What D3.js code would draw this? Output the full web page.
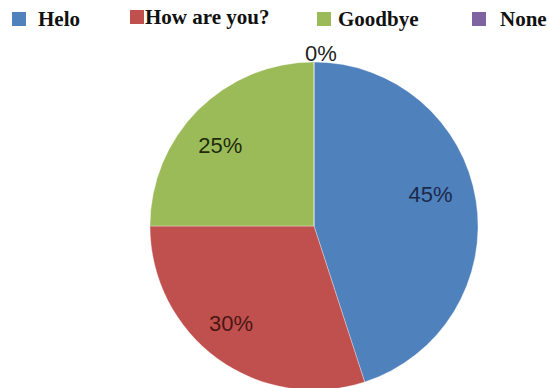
<!DOCTYPE html>
<html>
<head>
<meta charset="utf-8">
<script src="https://cdn.jsdelivr.net/npm/d3@7"></script>
<style>
  html, body { margin: 0; padding: 0; background: #fff; }
  svg { display: block; }
</style>
</head>
<body>
<svg id="chart" width="549" height="388"></svg>
<script>
// Share of greetings
const categories = ["Helo", "How are you?", "Goodbye", "None"];
const values = [45, 30, 25, 0];
const labels = ["45%", "30%", "25%", "0%"];

const colors = ["#4F81BD", "#C0504D", "#9BBB59", "#8064A2"];
const labelColors = ["#1b2a4a", "#4a1616", "#1e2c0c", "#222222"];

const W = 549, H = 388;
const cx = 314, cy = 226, R = 164;

const svg = d3.select("#chart");

const color = d3.scaleOrdinal().domain(categories).range(colors);
const labelColor = d3.scaleOrdinal().domain(categories).range(labelColors);

const data = categories.map((c, i) => ({ category: c, value: values[i], label: labels[i] }));

const pie = d3.pie().sort(null).value(d => d.value).startAngle(0).endAngle(2 * Math.PI);
const arcs = pie(data);

const arc = d3.arc().innerRadius(0).outerRadius(R);

const g = svg.append("g").attr("transform", `translate(${cx},${cy})`);

g.selectAll("path.slice")
  .data(arcs)
  .join("path")
  .attr("class", "slice")
  .attr("d", arc)
  .attr("fill", d => color(d.data.category))
  .attr("stroke", "rgba(255,255,255,0.45)")
  .attr("stroke-width", 0.7);

// Data labels: placed inside the slice, or just outside for an empty slice
const labelArc = d3.arc().innerRadius(124).outerRadius(124);
const outerArc = d3.arc().innerRadius(R + 10).outerRadius(R + 10);
const nudge = {
  "Helo": [-6, -12],
  "How are you?": [-10, -3],
  "Goodbye": [-6, 7],
  "None": [7, 1]
};

g.selectAll("text.val")
  .data(arcs)
  .join("text")
  .attr("class", "val")
  .attr("transform", d => {
    const p = d.value > 0 ? labelArc.centroid(d) : outerArc.centroid(d);
    const n = nudge[d.data.category];
    return `translate(${p[0] + n[0]},${p[1] + n[1]})`;
  })
  .attr("text-anchor", "middle")
  .attr("dominant-baseline", "central")
  .attr("font-family", "'Liberation Sans', Arial, sans-serif")
  .attr("font-size", 22)
  .attr("fill", d => labelColor(d.data.category))
  .text(d => d.data.label);

// Legend across the top
const legendX = [12, 130, 317, 472];
const legendY = [12, 10, 12, 12];
const legendTextX = [26, 15, 21, 28];
const legend = svg.append("g")
  .selectAll("g")
  .data(data)
  .join("g")
  .attr("transform", (d, i) => `translate(${legendX[i]},${legendY[i]})`);

legend.append("rect")
  .attr("width", 14)
  .attr("height", 14)
  .attr("fill", d => color(d.category));

legend.append("text")
  .attr("x", (d, i) => legendTextX[i])
  .attr("y", 14)
  .attr("font-family", "'Liberation Serif', 'Times New Roman', serif")
  .attr("font-weight", "bold")
  .attr("font-size", 21)
  .attr("fill", "#111")
  .text(d => d.category);
</script>
</body>
</html>
